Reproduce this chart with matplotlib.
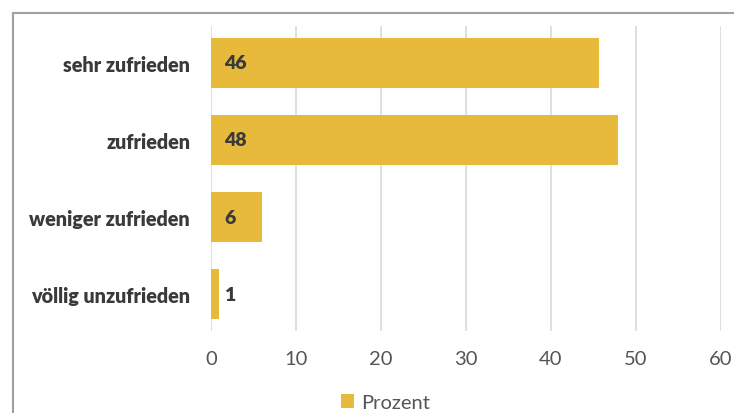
import matplotlib.pyplot as plt
from matplotlib.patches import Rectangle

plt.rcParams['font.family'] = ['Lato', 'DejaVu Sans']

# data
categories = ["sehr zufrieden", "zufrieden", "weniger zufrieden", "völlig unzufrieden"]
prozent = [45.7, 47.9, 6.0, 0.9]
ticks = [0, 10, 20, 30, 40, 50, 60]

bar_color = "#E8BA3C"
text_dark = "#3a3a3a"
text_grey = "#555555"

fig = plt.figure(figsize=(7.34, 4.14), dpi=100)
ax = fig.add_axes([0.2875, 0.198, 0.982 - 0.2875, 0.9348 - 0.198])

y = range(len(categories))
bars = ax.barh(y, prozent, height=0.66, color=bar_color, label="Prozent", zorder=2)

# value labels near the base of each bar
for yi, v in zip(y, prozent):
    ax.annotate(f"{round(v):d}", xy=(0, yi), xytext=(9.5, 0), textcoords="offset points",
                ha="left", va="center", fontsize=14, fontweight="heavy", color=text_dark)

ax.set_xlim(0, 60)
ax.set_ylim(3.48, -0.48)
ax.set_xticks(ticks)
ax.set_yticks(list(y))
ax.set_yticklabels(categories, fontsize=14.2, fontweight="heavy", color=text_dark)
ax.tick_params(axis="y", length=0, pad=15)
ax.tick_params(axis="x", length=0, pad=14, labelsize=14.5, labelcolor=text_grey)

ax.grid(axis="x", color="#d9d9d9", linewidth=1.2, zorder=0)
ax.set_axisbelow(True)
for s in ax.spines.values():
    s.set_visible(False)

fig.legend(handles=[bars], labels=["Prozent"], loc="center", bbox_to_anchor=(0.525, 0.025),
           frameon=False, fontsize=14.5, handlelength=0.65, handleheight=0.65,
           handletextpad=0.35, labelcolor=text_grey)

# outer frame of the chart (cut off at right and bottom)
frame = Rectangle((13 / 734, -0.2), 1.2, 1 - 14 / 414 + 0.2, transform=fig.transFigure,
                  fill=False, edgecolor="#a0a0a0", linewidth=1.5)
fig.patches.append(frame)

fig.savefig("out.png", dpi=100)
